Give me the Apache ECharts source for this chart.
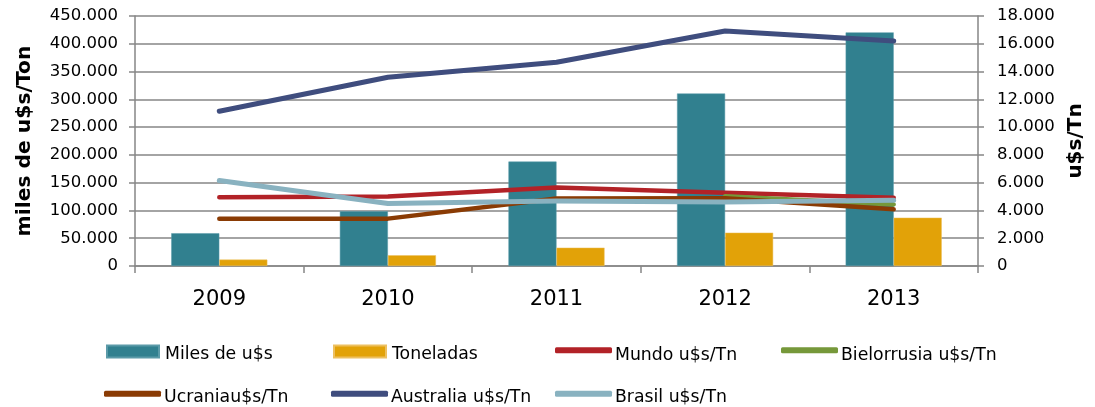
<!DOCTYPE html>
<html><head><meta charset="utf-8">
<script src="https://cdn.jsdelivr.net/npm/echarts@6/dist/echarts.min.js"></script>
<style>html,body{margin:0;padding:0;background:#fff}#c{width:1095px;height:407px}</style>
</head><body><div id="c"></div>
<script>
var years = ['2009','2010','2011','2012','2013'];
var milesUSD = [59000, 98500, 188000, 310500, 420500];
var toneladas = [11500, 19300, 33000, 60000, 87000];
var mundo = [4950, 5000, 5650, 5280, 4920];
var bielorrusia = [null, null, null, 5020, 4430];
var ucrania = [3410, 3410, 4860, 4880, 4080];
var australia = [11140, 13590, 14670, 16920, 16200];
var brasil = [6150, 4500, 4680, 4600, 4730];
var leftTicks = {min: 0, max: 450000, interval: 50000};
var rightTicks = {min: 0, max: 18000, interval: 2000};

var FONT = "'DejaVu Sans', sans-serif";
var GRAY = '#868686';
function fmt(v){ return v === 0 ? '0' : String(v).replace(/\B(?=(\d{3})+(?!\d))/g, '.'); }

var colors = {
  'Miles de u$s': '#31808F', 'Toneladas': '#E2A208',
  'Mundo u$s/Tn': '#B22227', 'Bielorrusia u$s/Tn': '#76983A',
  'Ucraniau$s/Tn': '#8A3B04', 'Australia u$s/Tn': '#3F4D7E', 'Brasil u$s/Tn': '#89B2C0'
};
function lineSeries(name, data, w){
  return {name: name, type: 'line', yAxisIndex: 1, data: data, symbol: 'none',
    connectNulls: false, animation: false,
    lineStyle: {color: colors[name], width: w || 4.5, cap: 'round', join: 'round'},
    itemStyle: {color: colors[name]}};
}
function legend(name, left, top, isBar, shift){
  return {data: [name], left: left, top: top, itemWidth: isBar ? 52 : 57, itemHeight: isBar ? 12 : 6,
    icon: isBar ? 'rect' : 'roundRect', itemGap: 0, padding: 0,
    formatter: function(n){ return '{t|' + n + '}'; },
    textStyle: {fontFamily: FONT, fontSize: 17.3, color: '#000',
      rich: {t: {fontFamily: FONT, fontSize: 17.3, color: '#000', lineHeight: 20,
        padding: [2 * shift, 0, 0, isBar ? 1 : -2]}}},
    selectedMode: false};
}
var chart = echarts.init(document.getElementById('c'), null, {renderer: 'canvas'});
chart.setOption({
  animation: false,
  grid: {left: 135, right: 117, top: 16, bottom: 141},
  legend: [
    legend('Miles de u$s', 106, 339.5, true, 3.5),
    legend('Toneladas', 333, 339.5, true, 3.5),
    legend('Mundo u$s/Tn', 555, 336.7, false, 5),
    legend('Bielorrusia u$s/Tn', 781, 336.7, false, 5),
    legend('Ucraniau$s/Tn', 104, 381.3, false, 4),
    legend('Australia u$s/Tn', 331, 381.3, false, 4),
    legend('Brasil u$s/Tn', 555, 381.3, false, 4)
  ],
  xAxis: {type: 'category', data: years, boundaryGap: true,
    axisLine: {lineStyle: {color: GRAY, width: 1.5}},
    axisTick: {show: true, length: 7, inside: false, lineStyle: {color: GRAY, width: 1.5}},
    axisLabel: {fontFamily: FONT, fontSize: 21, color: '#000', margin: 23}},
  yAxis: [
    {type: 'value', min: leftTicks.min, max: leftTicks.max, interval: leftTicks.interval,
     name: 'miles de u$s/Ton', nameLocation: 'middle', nameGap: 100, nameRotate: 90,
     nameTextStyle: {fontFamily: FONT, fontSize: 20.3, fontWeight: 'bold', color: '#000'},
     axisLine: {show: true, lineStyle: {color: GRAY, width: 1.5}},
     axisTick: {show: true, length: 6, lineStyle: {color: GRAY, width: 1.5}},
     splitLine: {show: true, lineStyle: {color: GRAY, width: 1.5}},
     axisLabel: {fontFamily: FONT, fontSize: 16.5, color: '#000', margin: 17, formatter: fmt}},
    {type: 'value', min: rightTicks.min, max: rightTicks.max, interval: rightTicks.interval, position: 'right',
     name: 'u$s/Tn', nameLocation: 'middle', nameGap: 87, nameRotate: 90,
     nameTextStyle: {fontFamily: FONT, fontSize: 20, fontWeight: 'bold', color: '#000'},
     axisLine: {show: true, lineStyle: {color: GRAY, width: 1.5}},
     axisTick: {show: true, length: 6, lineStyle: {color: GRAY, width: 1.5}},
     splitLine: {show: false},
     axisLabel: {fontFamily: FONT, fontSize: 16.5, color: '#000', margin: 19, formatter: fmt}}
  ],
  series: [
    {name: 'Miles de u$s', type: 'bar', data: milesUSD, barGap: '0%', barCategoryGap: '43%',
     itemStyle: {color: colors['Miles de u$s'], borderColor: '#5B9AA8', borderWidth: 0.5}},
    {name: 'Toneladas', type: 'bar', data: toneladas,
     itemStyle: {color: colors['Toneladas'], borderColor: '#EDC060', borderWidth: 0.5}},
    lineSeries('Mundo u$s/Tn', mundo),
    lineSeries('Bielorrusia u$s/Tn', bielorrusia),
    lineSeries('Ucraniau$s/Tn', ucrania),
    lineSeries('Australia u$s/Tn', australia, 5),
    lineSeries('Brasil u$s/Tn', brasil, 5)
  ]
});
</script></body></html>
